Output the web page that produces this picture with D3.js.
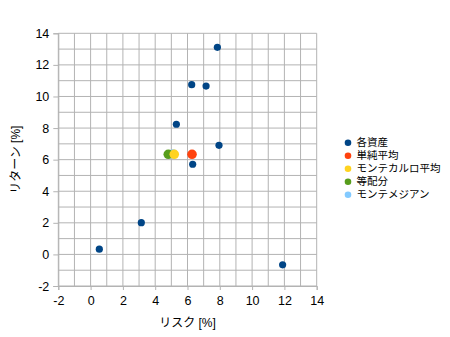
<!DOCTYPE html>
<html>
<head>
<meta charset="utf-8">
<script src="https://cdn.jsdelivr.net/npm/d3@7"></script>
<style>
  body { margin: 0; background: #fff; }
  text { font-family: "Liberation Sans", Arial, "Noto Sans CJK JP", sans-serif; }
</style>
</head>
<body>
<div id="chart"></div>
<script>
// Data
const seriesNames = ["各資産", "単純平均", "モンテカルロ平均", "等配分", "モンテメジアン"];
const seriesColors = ["#004586", "#ff420e", "#ffd320", "#579d1c", "#83caff"];

// 各資産 (risk, return)
const assetRisk   = [7.85, 6.26, 7.15, 5.31, 7.95, 6.32, 3.14, 0.54, 11.89];
const assetReturn = [13.11, 10.75, 10.66, 8.24, 6.91, 5.71, 2.01, 0.33, -0.66];
// portfolios
const simpleAvg   = [6.28, 6.34];
const mcAvg       = [5.18, 6.34];
const equalWeight = [4.81, 6.34];
const mcMedian    = [5.10, 6.36];

const xTicks = [-2, 0, 2, 4, 6, 8, 10, 12, 14];
const yTicks = [-2, 0, 2, 4, 6, 8, 10, 12, 14];

const W = 450, H = 337;
const margin = {top: 33.3, left: 58.3, right: 450 - 316.7, bottom: 337 - 286};
const width = W - margin.left - margin.right;
const height = H - margin.top - margin.bottom;

const svg = d3.select("#chart").append("svg")
  .attr("width", W).attr("height", H);

const g = svg.append("g")
  .attr("transform", "translate(" + margin.left + "," + margin.top + ")");

const x = d3.scaleLinear().domain([-2, 14]).range([0, width]);
const y = d3.scaleLinear().domain([-2, 14]).range([height, 0]);

// grid every 1 unit
const gridVals = d3.range(-2, 14.01, 1);
g.append("g").selectAll("line").data(gridVals).join("line")
  .attr("x1", d => x(d)).attr("x2", d => x(d))
  .attr("y1", 0).attr("y2", height)
  .attr("stroke", "#b3b3b3").attr("stroke-width", 1);
g.append("g").selectAll("line").data(gridVals).join("line")
  .attr("y1", d => y(d)).attr("y2", d => y(d))
  .attr("x1", 0).attr("x2", width)
  .attr("stroke", "#b3b3b3").attr("stroke-width", 1);

// axes (plain hyphen for negatives, like the original)
const fmt = d => String(d);
const xAxis = d3.axisBottom(x).tickValues(xTicks).tickFormat(fmt).tickSize(4).tickPadding(6);
const yAxis = d3.axisLeft(y).tickValues(yTicks).tickFormat(fmt).tickSize(5).tickPadding(4);

const gx = g.append("g").attr("transform", "translate(0," + height + ")").call(xAxis);
const gy = g.append("g").call(yAxis);
[gx, gy].forEach(a => {
  a.select(".domain").attr("stroke", "#b3b3b3");
  a.selectAll(".tick line").attr("stroke", "#b3b3b3");
  a.selectAll(".tick text").attr("fill", "#000")
    .style("font-size", "12.5px").style("font-family", "'Liberation Sans', Arial, sans-serif");
});

// axis titles
svg.append("text")
  .attr("x", margin.left + width / 2).attr("y", 327)
  .attr("text-anchor", "middle")
  .style("font-size", "12px")
  .text("リスク [%]");
svg.append("text")
  .attr("transform", "translate(20," + (margin.top + height / 2) + ") rotate(-90)")
  .attr("text-anchor", "middle")
  .style("font-size", "12px")
  .text("リターン [%]");

// points
const assets = assetRisk.map((r, i) => [r, assetReturn[i]]);
g.append("g").selectAll("circle").data(assets).join("circle")
  .attr("cx", d => x(d[0])).attr("cy", d => y(d[1]))
  .attr("r", 3.6).attr("fill", seriesColors[0]);

const portfolios = [
  {p: mcMedian, c: seriesColors[4]},
  {p: simpleAvg, c: seriesColors[1]},
  {p: equalWeight, c: seriesColors[3]},
  {p: mcAvg, c: seriesColors[2]}
];
g.append("g").selectAll("circle").data(portfolios).join("circle")
  .attr("cx", d => x(d.p[0])).attr("cy", d => y(d.p[1]))
  .attr("r", 4.8).attr("fill", d => d.c);

// legend
const legend = svg.append("g").attr("transform", "translate(348,142.7)");
const item = legend.selectAll("g").data(seriesNames).join("g")
  .attr("transform", (d, i) => "translate(0," + i * 13 + ")");
item.append("circle").attr("r", 3.3).attr("fill", (d, i) => seriesColors[i]);
item.append("text").attr("x", 8.5).attr("dy", "0.36em")
  .style("font-size", "10.5px")
  .style("font-family", "'Noto Sans CJK JP', sans-serif")
  .text(d => d);
</script>
</body>
</html>
